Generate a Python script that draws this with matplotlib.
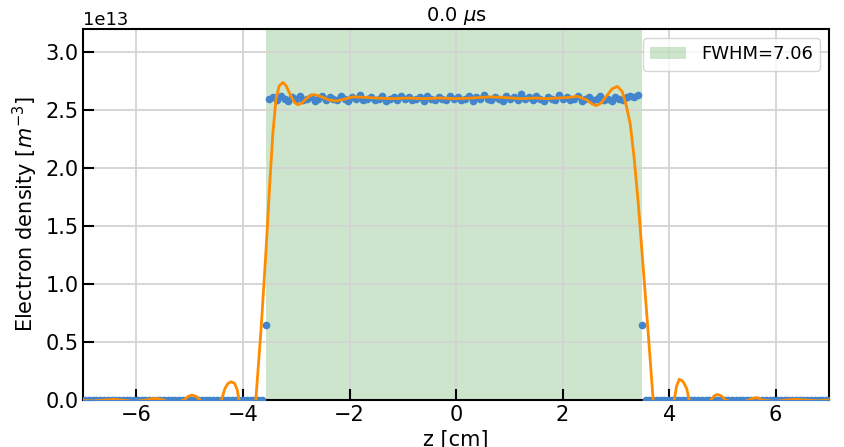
import matplotlib
matplotlib.use('Agg')
import matplotlib.pyplot as plt
import numpy as np

# measured points (electron density in units of 1e13 m^-3)
z_step = 0.0706
z_first = -3.574          # first half-max point
k_range = np.arange(-49, 151)
z_pts = z_first + k_range * z_step

zeros_left = [0.0] * 49
zeros_right = [0.0] * 50
half_max = 0.65
plateau = [2.60, 2.61, 2.59, 2.62, 2.60, 2.58, 2.61, 2.60, 2.62, 2.59,
           2.60, 2.61, 2.58, 2.60, 2.62, 2.59, 2.61, 2.60, 2.59, 2.62,
           2.60, 2.58, 2.61, 2.60, 2.63, 2.59, 2.60, 2.61, 2.59, 2.60,
           2.62, 2.58, 2.60, 2.61, 2.59, 2.62, 2.60, 2.61, 2.59, 2.60,
           2.61, 2.58, 2.62, 2.60, 2.59, 2.61, 2.60, 2.59, 2.62, 2.60,
           2.61, 2.59, 2.60, 2.62, 2.58, 2.61, 2.60, 2.63, 2.60, 2.59,
           2.61, 2.60, 2.58, 2.62, 2.60, 2.61, 2.59, 2.64, 2.60, 2.61,
           2.59, 2.62, 2.60, 2.58, 2.61, 2.60, 2.59, 2.63, 2.60, 2.61,
           2.59, 2.60, 2.62, 2.58, 2.60, 2.61, 2.59, 2.60, 2.62, 2.59,
           2.60, 2.58, 2.61, 2.60, 2.59, 2.61, 2.62, 2.61, 2.63]
n_pts = zeros_left + [half_max] + plateau + [half_max] + zeros_right

# fitted curve
z_fit = [-7.0, -6.8, -6.6, -6.44, -6.28, -6.05, -5.81, -5.73, -5.655, -5.58, -5.50,
         -5.3, -5.11, -5.03, -4.96, -4.88, -4.81, -4.6,
         -4.405, -4.34, -4.28, -4.22, -4.16, -4.11, -4.075, -3.92,
         -3.76, -3.66, -3.57, -3.50, -3.44, -3.38, -3.32, -3.25, -3.19, -3.11,
         -3.03, -2.97, -2.90, -2.80, -2.72, -2.655, -2.55, -2.40, -2.25, -2.10,
         -1.94, -1.75, -1.5, -1.2, -0.9, -0.6, -0.3, 0.0, 0.3, 0.63, 0.9, 1.2,
         1.5, 1.69, 1.9, 2.1, 2.28, 2.45, 2.55, 2.63, 2.72, 2.82, 2.93, 3.03,
         3.12, 3.2, 3.27, 3.34, 3.42, 3.49, 3.60, 3.70, 3.88,
         4.095, 4.14, 4.19, 4.26, 4.33, 4.376, 4.58,
         4.78, 4.85, 4.907, 4.98, 5.06, 5.28,
         5.50, 5.57, 5.627, 5.69, 5.75, 5.98, 6.2, 6.38, 6.55, 6.8, 7.0]
n_fit = [-0.004, -0.008, 0.0, 0.006, 0.0, -0.012, 0.0, 0.01, 0.014, 0.01, 0.0,
         -0.03, 0.0, 0.032, 0.043, 0.032, 0.0, -0.09,
         0.0, 0.10, 0.145, 0.158, 0.145, 0.09, 0.0, -0.25,
         0.0, 0.62, 1.28, 1.85, 2.30, 2.60, 2.71, 2.74, 2.71, 2.63,
         2.565, 2.547, 2.56, 2.605, 2.63, 2.634, 2.62, 2.59, 2.58, 2.595,
         2.615, 2.612, 2.605, 2.60, 2.605, 2.60, 2.605, 2.60, 2.605, 2.615, 2.61, 2.60,
         2.605, 2.60, 2.605, 2.61, 2.62, 2.59, 2.555, 2.54, 2.56, 2.62, 2.685, 2.705,
         2.66, 2.53, 2.38, 2.10, 1.70, 1.28, 0.62, 0.0, -0.28,
         0.0, 0.12, 0.18, 0.16, 0.10, 0.0, -0.10,
         0.0, 0.038, 0.048, 0.035, 0.0, -0.03,
         0.0, 0.015, 0.02, 0.015, 0.0, -0.012, 0.0, 0.006, 0.0, -0.006, 0.0]

fwhm_left = -3.574
fwhm_right = 3.486
fwhm = 7.06

fig = plt.figure(figsize=(8.45, 4.47), dpi=100)
ax = fig.add_axes([0.0985, 0.105, 0.8825, 0.83])

ax.axvspan(fwhm_left, fwhm_right, color='green', alpha=0.2, lw=0,
           label='FWHM={:.2f}'.format(fwhm))
ax.plot(z_pts, np.array(n_pts) * 1e13, 'o', color='#4285cc', ms=4.5, zorder=3)
ax.plot(z_fit, np.array(n_fit) * 1e13, '-', color='darkorange', lw=2, zorder=4)

ax.set_xlim(-7, 7)
ax.set_ylim(0, 3.2e13)
ax.set_yticks(np.arange(0, 3.01, 0.5) * 1e13)
ax.grid(True, color='#d3d3d3', lw=1.3)
ax.set_axisbelow('line')

ax.tick_params(direction='in', length=8, width=1.5, labelsize=15)
for sp in ax.spines.values():
    sp.set_linewidth(1.5)
ax.yaxis.get_offset_text().set_fontsize(13)

ax.set_title(r'0.0 $\mu$s', fontsize=14)
ax.set_xlabel('z [cm]', fontsize=15)
ax.set_ylabel(r'Electron density [$m^{-3}$]', fontsize=15)
ax.legend(loc='upper right', fontsize=13)

fig.savefig('out.png', dpi=100)
